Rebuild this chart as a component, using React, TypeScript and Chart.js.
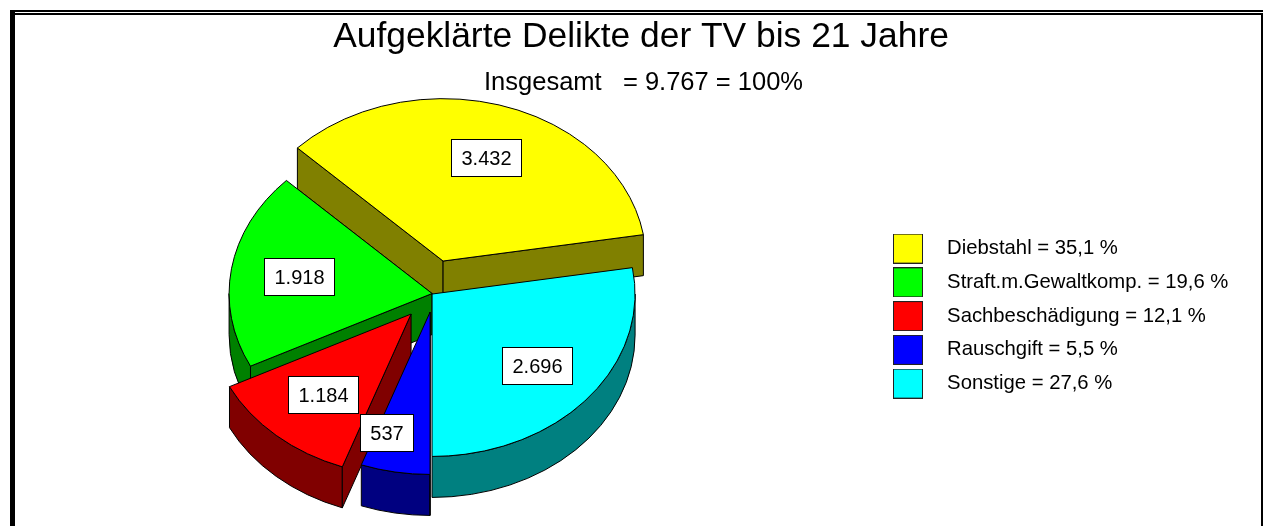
import React, { useEffect, useRef } from "react";
import { Chart, registerables } from "chart.js";

Chart.register(...registerables);

// ---- data ----
const categories = ["Diebstahl", "Straft.m.Gewaltkomp.", "Sachbeschädigung", "Rauschgift", "Sonstige"];
const values = [3432, 1918, 1184, 537, 2696];
const percents = ["35,1", "19,6", "12,1", "5,5", "27,6"];
const titleText = "Aufgeklärte Delikte der TV bis 21 Jahre";
const subtitleText = "Insgesamt   = 9.767 = 100%";

// ---- styles ----
const faceColors = ["#FFFF00", "#00FF00", "#FF0000", "#0000FF", "#00FFFF"];
const wallColors = ["#808000", "#008000", "#800000", "#000080", "#008080"];
const explodeShift = [[11, -31], [0, 1.5], [-21, 22], [-2, 20], [0, 2]];
const labelNudge = [[2, 1], [2, 0], [3, -1], [-20, 12], [0, 1]];
const RADIUS = 203;
const SQUASH = 0.8;
const DEPTH = 41;
const LABEL_RADIUS = 137;
const FONT = "'Liberation Sans', Arial, sans-serif";

const formatValue = (v: number) => String(v).replace(/\B(?=(\d{3})+$)/g, ".");

function makeSwatch(color: string) {
  const c = document.createElement("canvas");
  c.width = 44;
  c.height = 30;
  const g = c.getContext("2d")!;
  g.fillStyle = color;
  g.fillRect(0.5, 0.5, 29, 29);
  g.strokeStyle = "#222";
  g.lineWidth = 1;
  g.strokeRect(0.5, 0.5, 29, 29);
  return c;
}

const framePlugin = {
  id: "frame",
  beforeDraw(chart: any) {
    const { ctx, width, height } = chart;
    ctx.save();
    ctx.fillStyle = "#fff";
    ctx.fillRect(0, 0, width, height);
    ctx.fillStyle = "#000";
    ctx.fillRect(10, 10, width - 10, 2);
    ctx.fillRect(10, 13, width - 10, 2);
    ctx.fillRect(10, 10, 5, height - 10);
    ctx.fillRect(width - 2, 13, 2, height - 13);
    ctx.restore();
  },
};

const layoutPlacePlugin = {
  id: "layoutPlace",
  afterLayout(chart: any) {
    const lg = chart.legend;
    const w = lg.right - lg.left;
    const h = lg.bottom - lg.top;
    lg.left = 879.5;
    lg.right = 879.5 + w;
    lg.top = 225;
    lg.bottom = 225 + h;
    chart.boxes.forEach((box: any) => {
      const text = box.options && box.options.text;
      if (text === titleText) {
        box.left = 0;
        box.right = 1282;
      } else if (text === subtitleText) {
        box.left = 0;
        box.right = 1287;
      }
    });
  },
};

// Chart.js lays slices out clockwise; the reference runs counter-clockwise, so
// each arc's angles are mirrored around the vertical axis.
const sliceAngles = (arc: any) => [Math.PI - arc.endAngle, Math.PI - arc.startAngle];

const pie3dPlugin = {
  id: "pie3d",
  beforeDatasetDraw(chart: any, args: any) {
    const { ctx } = chart;
    const arcs = args.meta.data;
    ctx.save();
    ctx.lineWidth = 1;
    ctx.strokeStyle = "#000";
    ctx.lineJoin = "round";
    arcs.forEach((arc: any, i: number) => {
      const R = arc.outerRadius;
      const Ry = R * SQUASH;
      const cx = arc.x + explodeShift[i][0];
      const cy = arc.y + explodeShift[i][1];
      const [t0, t1] = sliceAngles(arc);
      const paint = (color: string) => {
        ctx.fillStyle = color;
        ctx.fill();
        ctx.stroke();
      };
      const from = Math.max(t0, 0);
      const to = Math.min(t1, Math.PI);
      if (from < to) {
        ctx.beginPath();
        ctx.ellipse(cx, cy, R, Ry, 0, from, to);
        ctx.ellipse(cx, cy + DEPTH, R, Ry, 0, to, from, true);
        ctx.closePath();
        paint(wallColors[i]);
      }
      // only the cut faces that turn towards the viewer
      const visibleCuts: number[] = [];
      if (Math.cos(t0) < 0) visibleCuts.push(t0);
      if (Math.cos(t1) > 0) visibleCuts.push(t1);
      visibleCuts.forEach((t) => {
        const px = cx + R * Math.cos(t);
        const py = cy + Ry * Math.sin(t);
        ctx.beginPath();
        ctx.moveTo(cx, cy);
        ctx.lineTo(px, py);
        ctx.lineTo(px, py + DEPTH);
        ctx.lineTo(cx, cy + DEPTH);
        ctx.closePath();
        paint(wallColors[i]);
      });
      ctx.beginPath();
      ctx.moveTo(cx, cy);
      ctx.ellipse(cx, cy, R, Ry, 0, t0, t1);
      ctx.closePath();
      paint(faceColors[i]);
    });
    ctx.restore();
    return false;
  },
  afterDatasetsDraw(chart: any) {
    const { ctx } = chart;
    const arcs = chart.getDatasetMeta(0).data;
    ctx.save();
    ctx.font = `20px ${FONT}`;
    ctx.textAlign = "center";
    ctx.textBaseline = "middle";
    arcs.forEach((arc: any, i: number) => {
      const [t0, t1] = sliceAngles(arc);
      const mid = (t0 + t1) / 2;
      const x = arc.x + explodeShift[i][0] + LABEL_RADIUS * Math.cos(mid) + labelNudge[i][0];
      const y = arc.y + explodeShift[i][1] + LABEL_RADIUS * SQUASH * Math.sin(mid) + labelNudge[i][1];
      const text = formatValue(values[i]);
      const w = Math.round(ctx.measureText(text).width + 20);
      const h = 37;
      const left = Math.round(x - w / 2) + 0.5;
      const top = Math.round(y - h / 2) + 0.5;
      ctx.fillStyle = "#fff";
      ctx.fillRect(left, top, w, h);
      ctx.strokeStyle = "#000";
      ctx.lineWidth = 1;
      ctx.strokeRect(left, top, w, h);
      ctx.fillStyle = "#000";
      ctx.fillText(text, left + w / 2, top + h / 2 + 1);
    });
    ctx.restore();
  },
};

export default function App() {
  const ref = useRef<HTMLCanvasElement>(null);
  useEffect(() => {
    if (!ref.current) return;
    const chart = new Chart(ref.current, {
      type: "pie",
      data: {
        labels: categories,
        datasets: [
          {
            data: values,
            backgroundColor: faceColors,
            borderColor: "#000",
            borderWidth: 1,
            radius: RADIUS,
          } as any,
        ],
      },
      options: {
        responsive: false,
        animation: false,
        rotation: -80.64,
        layout: { padding: { left: 0, top: 0, right: 40, bottom: 40 } },
        plugins: {
          tooltip: { enabled: false },
          title: {
            display: true,
            text: titleText,
            color: "#000",
            font: { family: FONT, size: 35.4, weight: "normal" },
            padding: { top: 16, bottom: 8 },
          },
          subtitle: {
            display: true,
            text: subtitleText,
            color: "#000",
            font: { family: FONT, size: 25.5, weight: "normal" },
            padding: { top: 1, bottom: 0 },
          },
          legend: {
            display: true,
            position: "right",
            align: "start",
            labels: {
              color: "#000",
              font: { family: FONT, size: 20.3 },
              usePointStyle: true,
              pointStyleWidth: 44,
              padding: 13.45,
              generateLabels: () =>
                categories.map((c, i) => ({
                  text: `${c} = ${percents[i]} %`,
                  fillStyle: faceColors[i],
                  strokeStyle: "#000",
                  lineWidth: 0,
                  hidden: false,
                  index: i,
                  pointStyle: makeSwatch(faceColors[i]),
                })),
            },
          },
        },
      } as any,
      plugins: [framePlugin, layoutPlacePlugin, pie3dPlugin],
    });
    return () => chart.destroy();
  }, []);
  return (
    <canvas
      ref={ref}
      width={1263}
      height={526}
      style={{ position: "absolute", left: 0, top: 0, width: 1263, height: 526, display: "block" }}
    />
  );
}
